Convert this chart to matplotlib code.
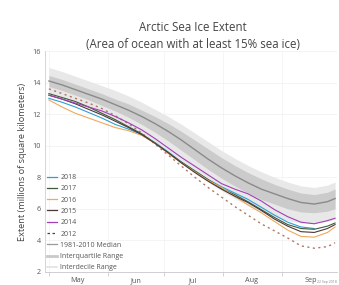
import matplotlib
matplotlib.use('Agg')
import matplotlib.pyplot as plt
import numpy as np
from matplotlib.lines import Line2D

plt.rcParams['font.family'] = 'Open Sans'

# Day of year for each sample (May 1 = 121 ... Sep 29 = 272)
days = [121, 128, 135, 142, 149, 156, 163, 170, 177, 184, 191, 198,
        205, 212, 219, 226, 233, 240, 247, 254, 261, 268, 272]

# 1981-2010 climatology (millions of sq km)
median = [14.1, 13.85, 13.55, 13.25, 12.95, 12.6, 12.25, 11.85, 11.4, 10.9, 10.35, 9.75,
          9.15, 8.6, 8.1, 7.65, 7.25, 6.95, 6.65, 6.4, 6.3, 6.45, 6.65]
iqr_low = [13.75, 13.5, 13.2, 12.9, 12.55, 12.2, 11.8, 11.35, 10.85, 10.3, 9.7, 9.1,
           8.5, 7.95, 7.45, 7.0, 6.6, 6.3, 6.0, 5.8, 5.75, 5.85, 6.0]
iqr_high = [14.45, 14.2, 13.9, 13.6, 13.3, 12.95, 12.65, 12.25, 11.85, 11.4, 10.9, 10.35,
            9.8, 9.25, 8.75, 8.3, 7.9, 7.55, 7.25, 7.0, 6.9, 7.05, 7.25]
idr_low = [13.3, 13.05, 12.75, 12.4, 12.0, 11.6, 11.15, 10.7, 10.2, 9.6, 8.95, 8.3,
           7.7, 7.15, 6.65, 6.2, 5.8, 5.5, 5.25, 5.1, 5.1, 5.2, 5.35]
idr_high = [14.95, 14.7, 14.4, 14.1, 13.8, 13.5, 13.15, 12.75, 12.3, 11.85, 11.35, 10.8,
            10.25, 9.7, 9.2, 8.75, 8.35, 8.0, 7.7, 7.45, 7.35, 7.5, 7.7]

# Individual years
y2018 = [13.0, 12.75, 12.45, 12.1, 11.75, 11.35, 11.05, 10.7, 10.2, 9.6, 8.95, 8.4,
         7.85, 7.4, 7.0, 6.6, 6.1, 5.6, 5.15, 4.85, 4.75]
y2017 = [13.3, 13.05, 12.8, 12.45, 12.05, 11.65, 11.2, 10.75, 10.15, 9.55, 8.95, 8.4,
         7.85, 7.3, 6.9, 6.45, 5.95, 5.45, 5.0, 4.75, 4.7, 4.9, 5.1]
y2016 = [12.9, 12.45, 12.05, 11.75, 11.45, 11.15, 10.95, 10.65, 10.15, 9.5, 8.9, 8.35,
         7.8, 7.35, 6.8, 6.25, 5.75, 5.2, 4.65, 4.25, 4.2, 4.5, 4.85]
y2015 = [13.2, 12.95, 12.65, 12.3, 11.95, 11.55, 11.15, 10.7, 10.15, 9.55, 8.9, 8.3,
         7.75, 7.25, 6.8, 6.4, 5.9, 5.35, 4.9, 4.55, 4.5, 4.75, 5.0]
y2014 = [13.2, 12.95, 12.7, 12.45, 12.2, 11.85, 11.45, 11.0, 10.45, 9.85, 9.25, 8.7,
         8.15, 7.6, 7.25, 6.95, 6.5, 5.95, 5.5, 5.15, 5.05, 5.25, 5.4]
y2012 = [13.6, 13.3, 13.0, 12.7, 12.35, 11.9, 11.4, 10.8, 10.1, 9.4, 8.7, 8.0,
         7.35, 6.75, 6.15, 5.6, 5.05, 4.6, 4.15, 3.65, 3.5, 3.6, 3.85]

years = ['2018', '2017', '2016', '2015', '2014', '2012']
series = [y2018, y2017, y2016, y2015, y2014, y2012]
colors = ['#2f9fd3', '#3f5a3c', '#f0a85a', '#4a3a3a', '#a23fb5', '#b07565']

month_starts = [121, 152, 182, 213, 244]
month_mids = [136, 167, 197, 228, 259]
month_labels = ['May', 'Jun', 'Jul', 'Aug', 'Sep']

fig = plt.figure(figsize=(3.39, 2.85), dpi=100)
ax = fig.add_axes([0.133, 0.046, 0.861, 0.775])

# Ranges and median
ax.fill_between(days, idr_low, idr_high, color='#e8e8e8', lw=0, zorder=1)
ax.fill_between(days, iqr_low, iqr_high, color='#cbcbcb', lw=0, zorder=2)
ax.plot(days, median, color='#8a8a8a', lw=1.0, zorder=3)

for name, vals, c in zip(years, series, colors):
    x = days[:len(vals)]
    if name == '2012':
        ax.plot(x, vals, color=c, lw=1.0, ls=(0, (1.5, 2.5)), zorder=4)
    else:
        ax.plot(x, vals, color=c, lw=0.8, zorder=5)

ax.set_xlim(119, 273)
ax.set_ylim(2, 16)
ax.set_yticks(range(2, 17, 2))
ax.set_xticks(month_starts)
ax.set_xticklabels([])
ax.set_xticks(month_mids, minor=True)
ax.set_xticklabels(month_labels, minor=True)
ax.tick_params(axis='x', which='major', length=3, color='#cccccc', width=0.6)
ax.tick_params(axis='x', which='minor', length=0, labelsize=5.2, colors='#555555', pad=4)
ax.tick_params(axis='y', length=0, labelsize=5.2, colors='#555555', pad=3)

ax.grid(axis='y', color='#f2f2f2', lw=0.6, zorder=0)
ax.grid(axis='x', which='major', color='#f4f4f4', lw=0.6, zorder=0)
ax.set_axisbelow(True)
for s in ['top', 'right']:
    ax.spines[s].set_visible(False)
ax.spines['left'].set_color('#d0d0d0')
ax.spines['left'].set_linewidth(0.6)
ax.spines['bottom'].set_color('#c8c8c8')
ax.spines['bottom'].set_linewidth(0.6)

ax.set_ylabel('Extent (millions of square kilometers)', fontsize=6.6, color='#444444', labelpad=4)

fig.text(0.57, 0.905, 'Arctic Sea Ice Extent', ha='center', va='center', fontsize=8.3, color='#444444')
fig.text(0.57, 0.845, '(Area of ocean with at least 15% sea ice)', ha='center', va='center',
         fontsize=8.3, color='#444444')
fig.text(0.995, 0.003, '22 Sep 2018', ha='right', va='bottom', fontsize=2.5, color='#888888')

handles = [Line2D([], [], color=c, lw=0.9) for c in colors[:5]]
handles.append(Line2D([], [], color='#444444', lw=0.9, ls=(0, (2, 2))))
handles.append(Line2D([], [], color='#9a9a9a', lw=0.9))
handles.append(Line2D([], [], color='#c9c9c9', lw=2.0))
handles.append(Line2D([], [], color='#e2e2e2', lw=1.2))
labels = years + ['1981-2010 Median', 'Interquartile Range', 'Interdecile Range']
leg = ax.legend(handles, labels, loc='lower left', bbox_to_anchor=(-0.01, -0.02),
                fontsize=5, frameon=False, handlelength=1.5, handletextpad=0.4,
                labelspacing=0.62, borderpad=0.2)
for t in leg.get_texts():
    t.set_color('#555555')

plt.savefig('out.png', dpi=100)
